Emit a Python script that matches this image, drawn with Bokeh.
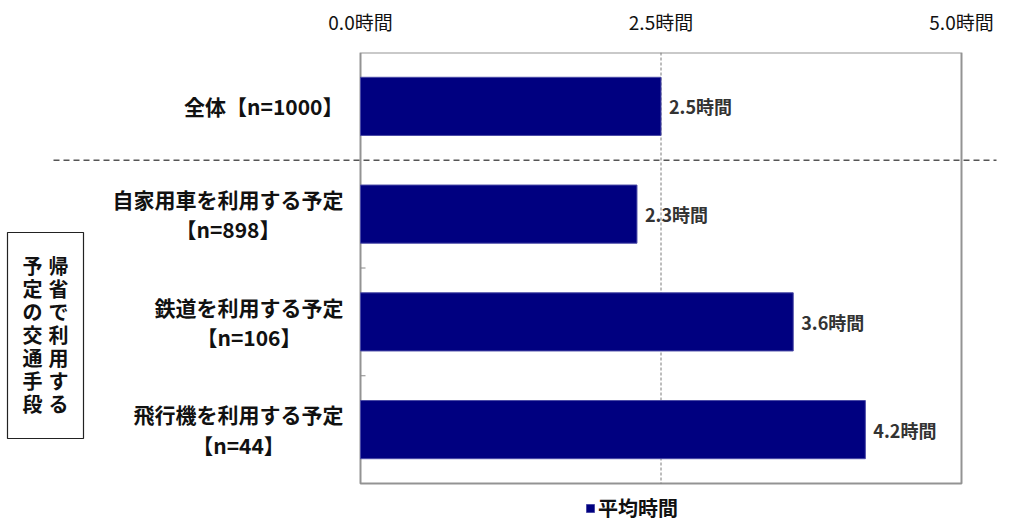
from bokeh.plotting import figure
from bokeh.models import (Range1d, LinearAxis, FixedTicker, PrintfTickFormatter,
                          ColumnDataSource, Legend, LegendItem)
from bokeh.core.properties import value
from bokeh.embed import file_html
from bokeh.resources import INLINE

# ---- data ----
group_names = ["全体", "自家用車を利用する予定", "鉄道を利用する予定", "飛行機を利用する予定"]
sample_sizes = [1000, 898, 106, 44]
avg_hours = [2.5, 2.3, 3.6, 4.2]
x_ticks = [0.0, 2.5, 5.0]
series_name = "平均時間"
side_title = ["帰省で利用する", "予定の交通手段"]

# ---- layout (canvas pixels) ----
W, H = 1009, 526
PLOT_L, PLOT_R = 360, 961      # canvas x of 0 h and 5 h
PLOT_T, PLOT_B = 52, 483       # canvas y of the chart box
X_MAX = 5.0
N = len(group_names)
px_per_x = (PLOT_R - PLOT_L) / X_MAX
px_per_y = (PLOT_B - PLOT_T) / N


def cx(px):
    return (px - PLOT_L) / px_per_x


def cy(py):
    return (py - PLOT_T) / px_per_y


FONT = value("Noto Sans CJK JP")
FS = 21
EM_BOX = 1.448   # line box of Noto Sans CJK relative to font size

p = figure(width=W, height=H, output_backend="svg", toolbar_location=None,
           x_axis_location=None, y_axis_location=None,
           x_range=Range1d(cx(0), cx(W)), y_range=Range1d(cy(H), cy(PLOT_T)),
           min_border_left=0, min_border_right=0, min_border_bottom=0,
           min_border_top=PLOT_T)
p.outline_line_color = None
p.background_fill_color = "white"
p.border_fill_color = "white"
for g in p.grid:
    g.visible = False

# top axis with hour labels
top_axis = LinearAxis(ticker=FixedTicker(ticks=x_ticks),
                      formatter=PrintfTickFormatter(format="%.1f時間"))
top_axis.axis_line_color = None
top_axis.major_tick_line_color = None
top_axis.minor_tick_line_color = None
top_axis.major_tick_out = 0
top_axis.major_label_standoff = 18
top_axis.major_label_text_font = "Noto Sans CJK JP"
top_axis.major_label_text_font_size = "19px"
top_axis.major_label_text_color = "#111111"
p.add_layout(top_axis, "above")

ys = [i + 0.5 for i in range(N)]
src = ColumnDataSource(dict(y=ys, hours=avg_hours,
                            label=[f"{v:.1f}時間" for v in avg_hours]))

# chart box, mid gridline and boundary ticks
p.quad(left=[0], right=[X_MAX], top=[0], bottom=[N], fill_color=None,
       line_color="#939393", line_width=2)
p.segment(x0=[x_ticks[1]], y0=[0], x1=[x_ticks[1]], y1=[N],
          line_color="#7a7a7a", line_width=1, line_dash="3 2")
p.ray(x=[0, 0], y=[2, 3], length=5, length_units="screen", angle=0,
      line_color="#888888", line_width=1)

bars = p.hbar(y="y", left=0, right="hours", height=0.54, source=src,
              fill_color="#000080", line_color="#4a4aa6", line_width=1)

# separator between the overall row and the transport rows
p.segment(x0=[cx(53)], y0=[1], x1=[cx(996)], y1=[1],
          line_color="#555555", line_width=1.6, line_dash="6 4")

# value labels
p.text(x="hours", y="y", text="label", source=src, x_offset=8,
       text_font=FONT, text_font_size="18px", text_font_style="bold",
       text_color="#333333", text_align="left", text_baseline="middle")

# category labels
RIGHT_GAP = PLOT_L - 343
for i, (name, n) in enumerate(zip(group_names, sample_sizes)):
    if i == 0:
        p.text(x=[0], y=[ys[i]], text=[f"{name}【n={n}】"], x_offset=-RIGHT_GAP,
               text_font=FONT, text_font_size=f"{FS}px", text_font_style="bold",
               text_color="#111111", text_align="right", text_baseline="middle")
    else:
        p.text(x=[0], y=[ys[i]], text=[f"{name}\n【n={n}】"],
               x_offset=-RIGHT_GAP - len(name) * FS / 2,
               text_font=FONT, text_font_size=f"{FS}px", text_font_style="bold",
               text_color="#111111", text_align="center", text_baseline="middle",
               text_line_height=31 / (FS * EM_BOX))

# boxed vertical title on the left
p.quad(left=[cx(7)], right=[cx(83)], top=[cy(232)], bottom=[cy(438)],
       fill_color="white", line_color="#222222", line_width=1.2)
for col_text, col_px in zip(side_title, [58, 32]):
    p.text(x=[cx(col_px)], y=[cy(334)], text=["\n".join(col_text)],
           text_font=FONT, text_font_size="20px", text_font_style="bold",
           text_color="#111111", text_align="center", text_baseline="middle",
           text_line_height=23 / (20 * EM_BOX))

legend = Legend(items=[LegendItem(label=series_name, renderers=[bars])],
                location=(585, 4), orientation="horizontal",
                glyph_width=10, glyph_height=10, label_standoff=3,
                padding=0, margin=0, spacing=0, label_height=20,
                border_line_color=None, background_fill_alpha=0,
                label_text_font="Noto Sans CJK JP", label_text_font_size="20px",
                label_text_font_style="bold", label_text_color="#111111")
p.add_layout(legend)

open("out.html", "w").write(file_html(p, INLINE))
